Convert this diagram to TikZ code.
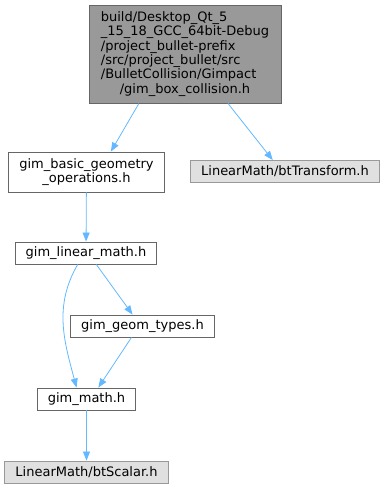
\documentclass[tikz,border=0pt]{standalone}
\usepackage{fontspec}
\setmainfont{DejaVu Sans}
\usetikzlibrary{arrows.meta}

\definecolor{edgeblue}{HTML}{63B8FF}
\definecolor{rootfill}{HTML}{999999}
\definecolor{extfill}{HTML}{E0E0E0}

\tikzset{
    file/.style={draw=black!60, line width=0.9pt, fill=white, minimum height=22pt,
        inner xsep=10.5pt, inner ysep=2pt, font=\fontsize{13}{14.3}\selectfont},
    rootfile/.style={file, fill=rootfill, draw=black!60},
    extfile/.style={file, fill=extfill, draw=rootfill},
    incl/.style={draw=edgeblue, line width=0.8pt, -{Triangle[length=9pt,width=7pt]}},
}

\begin{document}
\begin{tikzpicture}[x=1pt, y=1pt]
    %% Background
    \useasboundingbox (0,0) rectangle (385,-491);

    %% Files
    \node[rootfile, align=left, inner xsep=6pt, minimum width=192pt, minimum height=98pt] (box) at (185,-54)
        {build/Desktop\_Qt\_5\\\_15\_18\_GCC\_64bit-Debug\\/project\_bullet-prefix\\/src/project\_bullet/src\\/BulletCollision/Gimpact\\\hspace*{\fill}/gim\_box\_collision.h\hspace*{\fill}};
    \node[file, align=center, minimum height=40pt] (basic) at (86.5,-172)
        {gim\_basic\_geometry\\\_operations.h};
    \node[extfile] (transform) at (285,-171.5) {LinearMath/btTransform.h};
    \node[file] (linear) at (86,-253) {gim\_linear\_math.h};
    \node[file] (geom) at (142.5,-326) {gim\_geom\_types.h};
    \node[file] (math) at (86.5,-399) {gim\_math.h};
    \node[extfile] (scalar) at (86.5,-472) {LinearMath/btScalar.h};

    %% Includes
    \draw[incl] (box.227) -- (basic.40);
    \draw[incl] (box.-49) -- (transform.137);
    \draw[incl] (basic) -- (linear);
    \draw[incl] (linear.234) to[out=240, in=105] (math.131);
    \draw[incl] (linear.-48) -- (geom.131);
    \draw[incl] (geom.226) -- (math.44);
    \draw[incl] (math) -- (scalar);
\end{tikzpicture}
\end{document}
